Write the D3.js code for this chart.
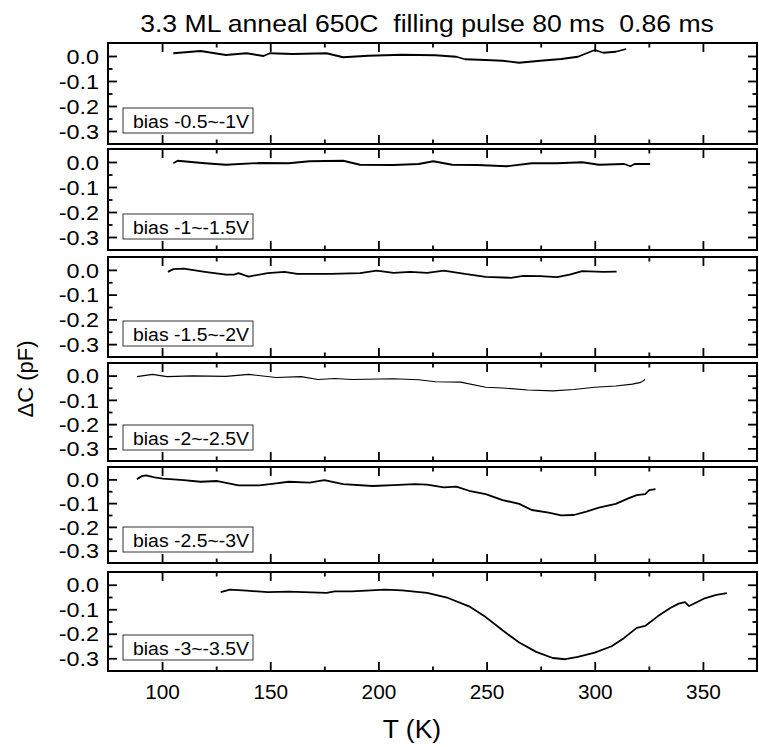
<!DOCTYPE html>
<html><head><meta charset="utf-8">
<script src="https://cdn.jsdelivr.net/npm/d3@7"></script>
<style>
body{margin:0;background:#fff}
svg{display:block}
text{font-family:"Liberation Sans",Arial,sans-serif;fill:#000}
</style>
</head><body>
<svg id="chart" width="759" height="747"></svg>
<script>
// ---------- data ----------
const chartTitle = "3.3 ML anneal 650C  filling pulse 80 ms  0.86 ms";
const xLabel = "T (K)";
const yLabel = "\u0394C (pF)";
const biasLabels = ["bias -0.5~-1V","bias -1~-1.5V","bias -1.5~-2V","bias -2~-2.5V","bias -2.5~-3V","bias -3~-3.5V"];
const xTickValues = [100,150,200,250,300,350];
const xMinorValues = [125,175,225,275,325];
const yTickValues = [0,-0.1,-0.2,-0.3];
const yTickLabels = ["0.0","-0.1","-0.2","-0.3"];
const yMinorValues = [-0.05,-0.15,-0.25];

const t1 = [105.2,117.8,129.5,139,146.9,149.8,160.5,176,183.7,195.3,210.9,226.4,236,240,249.6,257.4,265,274.8,284.5,292.2,300,303.9,309.7,314.5];
const c1 = [0.011,0.02,0.004,0.011,0.0,0.011,0.008,0.011,-0.005,0.001,0.005,0.003,-0.003,-0.013,-0.016,-0.019,-0.027,-0.019,-0.012,-0.003,0.024,0.013,0.017,0.028];

const t2 = [105.2,107.2,119.8,129.5,145,158.5,168.2,183.7,191.5,207,218.6,225.4,234.1,245.7,259.3,270.9,282.6,294.2,302,313.6,316.5,318.4,325.6];
const c2 = [-0.005,0.005,-0.005,-0.011,-0.004,-0.005,0.003,0.005,-0.011,-0.012,-0.008,0.003,-0.011,-0.012,-0.017,-0.005,-0.005,-0.001,-0.011,-0.008,-0.017,-0.008,-0.008];

const t3 = [102.7,105.2,110,119.8,129.5,133.3,135.3,140,148.8,156.6,162.4,177.9,191.5,199.2,207,214.7,222.5,230.2,239.9,249.6,261.2,267,274.8,282.6,288.4,294.2,303.9,310.1];
const c3 = [-0.008,0.003,0.005,-0.008,-0.019,-0.019,-0.013,-0.027,-0.013,-0.008,-0.016,-0.016,-0.013,-0.003,-0.012,-0.008,-0.012,-0.003,-0.016,-0.028,-0.032,-0.024,-0.025,-0.029,-0.019,-0.005,-0.008,-0.007];

const t4 = [88.4,95.5,102.3,114,129.5,140.1,152.7,164.3,172.1,179.8,187.6,207,218.6,226.4,238,249.6,257.4,269,280.6,290.3,300,309.7,317.4,321.3,323.3];
const c4 = [-0.004,0.005,-0.004,-0.001,-0.003,0.005,-0.008,-0.004,-0.016,-0.012,-0.016,-0.013,-0.017,-0.025,-0.027,-0.048,-0.051,-0.059,-0.063,-0.057,-0.048,-0.043,-0.035,-0.028,-0.016];

const t5 = [88.4,90.7,92.6,96.5,100.4,110,117.8,125.6,135.3,145,152.7,158.5,168.2,175,183.7,197.3,207,216.7,222.5,230.2,236,241.9,249.6,257.4,265.1,270.9,278.7,284.5,290.3,296.1,301.9,309.7,315.5,319.4,323.3,325.2,328.1];
const c5 = [0.001,0.014,0.017,0.008,0.003,-0.003,-0.01,-0.007,-0.025,-0.025,-0.017,-0.01,-0.014,-0.003,-0.02,-0.028,-0.024,-0.02,-0.022,-0.034,-0.031,-0.048,-0.062,-0.087,-0.103,-0.129,-0.14,-0.152,-0.15,-0.136,-0.119,-0.103,-0.08,-0.066,-0.062,-0.045,-0.041];

const t6 = [127.1,131.4,139.1,148.8,158.5,176,179.8,187.6,203.1,210.9,222.5,232.2,241.9,249.6,257.4,265.1,272.9,280.6,286.4,292.2,300,307.8,313.6,319.4,323.3,329.1,334.9,338.8,341.7,343.6,350.4,356.2,361.1];
const c6 = [-0.03,-0.02,-0.024,-0.03,-0.028,-0.033,-0.027,-0.027,-0.02,-0.023,-0.033,-0.054,-0.088,-0.132,-0.186,-0.236,-0.274,-0.299,-0.304,-0.294,-0.277,-0.251,-0.217,-0.176,-0.168,-0.129,-0.095,-0.077,-0.071,-0.087,-0.057,-0.041,-0.034];

const seriesT = [t1,t2,t3,t4,t5,t6];
const seriesC = [c1,c2,c3,c4,c5,c6];

// ---------- layout ----------
const plotLeft = 108, plotRight = 757;
const panelTop = [43,149,257,363,467,572];
const panelBottom = [144,250,357,461,563,671];
const lineWidths = [1.8,1.8,1.8,1.1,1.8,1.8];
const yTickStretch = 1.17, legendStretch = 1.05, titleStretch = 1.108;

const svg = d3.select("#chart");
const x = d3.scaleLinear().domain([75,375]).range([plotLeft, plotRight]);

svg.append("text")
  .attr("transform", `translate(427,32) scale(${titleStretch},1)`)
  .attr("text-anchor","middle")
  .style("font-size","24px")
  .style("white-space","pre")
  .text(chartTitle);

seriesT.forEach((ts, i) => {
  const top = panelTop[i], bot = panelBottom[i];
  const y = d3.scaleLinear().domain([-0.352, 0.052]).range([bot, top]);
  const g = svg.append("g");

  const clipId = "clip" + i;
  svg.append("clipPath").attr("id", clipId)
    .append("rect").attr("x", plotLeft).attr("y", top).attr("width", plotRight - plotLeft).attr("height", bot - top);

  // curve
  const pts = ts.map((t, k) => [t, seriesC[i][k]]);
  g.append("path")
    .attr("clip-path", `url(#${clipId})`)
    .attr("d", d3.line().x(d => x(d[0])).y(d => y(d[1]))(pts))
    .attr("fill","none").attr("stroke","#000")
    .attr("stroke-width", lineWidths[i]).attr("stroke-linejoin","round");

  // ticks
  const tickStyle = sel => { sel.select(".domain").remove(); sel.selectAll("line").attr("stroke","#000").attr("stroke-width",1.8); };
  g.append("g").attr("transform",`translate(0,${bot})`)
    .call(d3.axisBottom(x).tickValues(xTickValues).tickSize(-9).tickFormat(""))
    .call(tickStyle);
  g.append("g").attr("transform",`translate(0,${bot})`)
    .call(d3.axisBottom(x).tickValues(xMinorValues).tickSize(-4.5).tickFormat(""))
    .call(tickStyle);
  g.append("g").attr("transform",`translate(0,${top})`)
    .call(d3.axisTop(x).tickValues(xTickValues).tickSize(-9).tickFormat(""))
    .call(tickStyle);
  g.append("g").attr("transform",`translate(0,${top})`)
    .call(d3.axisTop(x).tickValues(xMinorValues).tickSize(-4.5).tickFormat(""))
    .call(tickStyle);

  const yl = g.append("g").attr("transform",`translate(${plotLeft},0)`)
    .call(d3.axisLeft(y).tickValues(yTickValues).tickSize(-9).tickPadding(9)
      .tickFormat((d, k) => yTickLabels[k]))
    .call(tickStyle);
  yl.selectAll("text").style("font-size","20px").attr("font-family",null)
    .attr("dy","0.36em").attr("x", -9 / yTickStretch)
    .attr("transform", `scale(${yTickStretch},1)`);
  g.append("g").attr("transform",`translate(${plotLeft},0)`)
    .call(d3.axisLeft(y).tickValues(yMinorValues).tickSize(-4.5).tickFormat(""))
    .call(tickStyle);
  g.append("g").attr("transform",`translate(${plotRight},0)`)
    .call(d3.axisRight(y).tickValues(yTickValues).tickSize(-9).tickFormat(""))
    .call(tickStyle);
  g.append("g").attr("transform",`translate(${plotRight},0)`)
    .call(d3.axisRight(y).tickValues(yMinorValues).tickSize(-4.5).tickFormat(""))
    .call(tickStyle);

  // frame
  g.append("rect").attr("x", plotLeft).attr("y", top)
    .attr("width", plotRight - plotLeft).attr("height", bot - top)
    .attr("fill","none").attr("stroke","#000").attr("stroke-width",2);

  // legend box
  g.append("rect").attr("x", 123).attr("y", bot - 36).attr("width", 130).attr("height", 25)
    .attr("fill","#fff").attr("stroke","#333").attr("stroke-width",1);
  g.append("text").attr("transform", `translate(133,${bot - 16}) scale(${legendStretch},1)`)
    .style("font-size","18.5px").text(biasLabels[i]);

  if (i === seriesT.length - 1) {
    const xl = g.append("g").attr("transform",`translate(0,${bot})`)
      .call(d3.axisBottom(x).tickValues(xTickValues).tickSize(0).tickPadding(14));
    xl.select(".domain").remove();
    xl.selectAll("text").style("font-size","20px").attr("font-family",null)
      .attr("transform","scale(1.04,1)");
  }
});

svg.append("text")
  .attr("transform","translate(412,738) scale(1.06,1)")
  .attr("text-anchor","middle")
  .style("font-size","25px")
  .text(xLabel);

svg.append("text")
  .attr("transform","translate(33,379) rotate(-90)")
  .attr("text-anchor","middle")
  .style("font-size","22px")
  .text(yLabel);
</script>
</body></html>
